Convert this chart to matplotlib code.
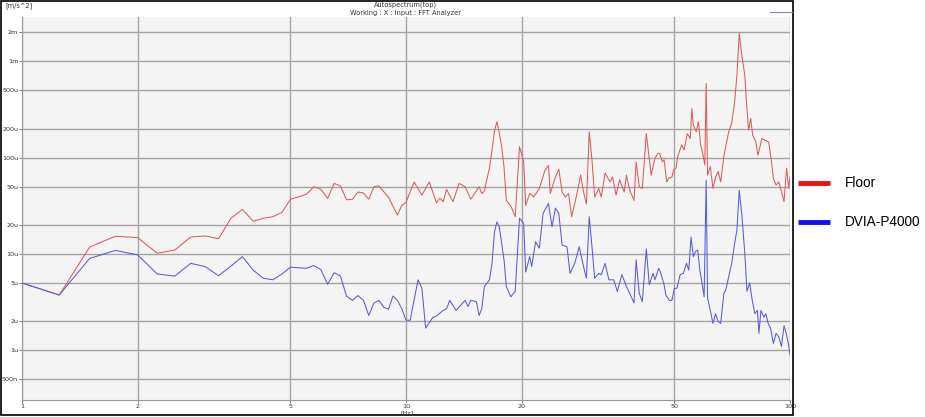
import matplotlib
matplotlib.use("Agg")
import matplotlib.pyplot as plt
from matplotlib.lines import Line2D
from matplotlib.patches import Rectangle
from matplotlib.ticker import FixedLocator, NullLocator
import numpy as np

# ---------------- data (values in micro m/s^2) ----------------
floor_freq = [1.0, 1.25, 1.5, 1.75, 2.0, 2.25, 2.5, 2.75, 3.0, 3.25, 3.5, 3.75, 4.0, 4.25, 4.5, 4.75,
              5.0, 5.5, 5.75, 6.0, 6.25, 6.5, 6.75, 7.0, 7.25, 7.5, 7.75, 8.0, 8.25, 8.5, 9.0, 9.5, 9.75,
              10.0, 10.5, 11.0, 11.5, 12.0, 12.25, 12.5, 12.75, 13.25, 13.75, 14.25, 14.75, 15.5, 15.75,
              16.0, 16.25, 16.5, 16.75, 17.0, 17.25, 17.5, 17.75, 18.0, 18.25, 18.75, 19.25, 19.75,
              20.25, 20.5, 21.0, 21.5, 22.25, 23.0, 23.5, 23.75, 24.5, 25.0, 25.5, 26.0, 26.5, 27.0,
              27.75, 28.5, 29.0, 29.5, 30.0, 30.5, 31.0, 31.75, 32.25, 33.0, 34.0, 34.5, 35.25, 36.0,
              37.0, 37.5, 38.25, 39.25, 39.75, 40.5, 41.25, 42.25, 43.0, 43.5, 44.5, 45.25, 45.75,
              46.5, 47.0, 47.75, 48.25, 49.25, 49.75, 50.5, 51.0, 52.25, 53.0, 54.0, 55.0, 55.5, 56.0,
              57.0, 57.75, 58.5, 59.25, 60.0, 60.5, 61.0, 62.0, 63.0, 64.0, 65.0, 66.0, 67.25, 68.0,
              69.25, 70.5, 71.75, 72.75, 73.75, 75.0, 76.25, 77.0, 78.0, 79.0, 80.0, 81.5, 82.5, 84.5,
              86.0, 88.0, 89.5, 90.5, 92.0, 93.5, 95.0, 96.5, 98.0, 99.25, 100.0]
floor_u = [5.0, 3.75, 11.8, 15.3, 14.8, 10.2, 11.0, 15.0, 15.4, 14.4, 23.5, 29, 21.9, 23.5, 24.4, 27,
           37, 41.6, 50, 47, 37.8, 54, 51, 36.6, 37, 44, 43, 37, 50, 51, 38.8, 25.4, 32,
           34.5, 56, 41, 56, 34, 38, 35, 47, 35, 54, 50, 37, 50, 42.5,
           45, 60, 78, 120, 190, 237, 178, 130, 80, 36, 31.5, 24.4, 130,
           91, 32, 42.5, 39, 48, 74, 83, 42.5, 63, 76, 44, 39, 42.5, 24.4,
           39, 66, 44, 33, 186, 95, 39, 48, 39, 69, 56, 63, 41, 59,
           44, 66, 46, 36, 90, 50, 48, 178, 98, 66, 98, 111, 111,
           91, 95, 56, 61, 63, 74, 78, 103, 136, 120, 178, 158, 323, 218,
           186, 237, 136, 111, 84, 591, 66, 81, 48, 63, 72, 56, 103, 130,
           186, 228, 382, 720, 1960, 1120, 720, 382, 194, 255, 170, 146, 106, 158,
           152, 146, 91, 61, 52, 56, 44.5, 35, 78, 48, 63]

dvia_freq = [1.0, 1.25, 1.5, 1.75, 2.0, 2.25, 2.5, 2.75, 3.0, 3.25, 3.5, 3.75, 4.0, 4.25, 4.5, 4.75,
             5.0, 5.5, 5.75, 6.0, 6.25, 6.5, 6.75, 7.0, 7.25, 7.5, 7.75, 8.0, 8.25, 8.5, 8.75, 9.0,
             9.25, 9.5, 9.75, 10.0, 10.25, 10.75, 11.0, 11.25, 11.75, 12.0, 12.5, 12.75, 13.0, 13.5,
             14.25, 14.5, 14.75, 15.25, 15.5, 15.75, 16.0, 16.5, 16.75, 17.0, 17.25, 17.5, 18.0,
             18.25, 18.75, 19.25, 19.75, 20.25, 20.5, 21.0, 21.25, 21.75, 22.25, 22.75, 23.5, 24.0,
             24.5, 25.0, 25.5, 26.25, 26.75, 27.5, 28.25, 29.0, 29.5, 30.0, 30.5, 31.0, 31.75, 32.25,
             33.0, 33.75, 34.75, 35.5, 36.5, 37.5, 38.25, 39.25, 39.75, 40.5, 41.25, 42.25, 43.0,
             44.0, 44.5, 45.5, 46.0, 47.0, 47.5, 48.5, 49.25, 50.0, 50.75, 51.75, 52.75, 53.75, 54.5,
             55.25, 56.0, 56.75, 57.5, 58.25, 59.0, 59.75, 60.5, 61.0, 62.0, 63.0, 64.0, 65.0, 66.0,
             67.25, 68.0, 69.25, 70.5, 71.75, 72.75, 73.75, 75.0, 76.25, 77.25, 78.5, 79.75, 81.0,
             82.25, 83.0, 84.0, 85.5, 86.5, 87.75, 89.0, 90.5, 92.0, 93.5, 95.0, 96.5, 97.75, 99.0,
             100.0]
dvia_u = [5.0, 3.75, 9.0, 10.9, 9.8, 6.2, 5.9, 8.0, 7.4, 5.95, 7.5, 9.4, 6.8, 5.6, 5.4, 6.2,
          7.3, 7.1, 7.6, 6.9, 4.85, 6.4, 5.9, 3.66, 3.3, 3.7, 3.3, 2.3, 3.1, 3.3, 2.8, 2.67,
          3.66, 3.3, 2.7, 2.06, 2.05, 5.4, 4.4, 1.7, 2.2, 2.27, 2.6, 2.7, 3.3, 2.6,
          3.3, 2.85, 3.3, 3.2, 2.3, 2.7, 4.6, 5.4, 8.0, 17, 21.6, 19, 8.7,
          4.6, 3.6, 4.1, 23.5, 20.8, 6.5, 9.4, 7.4, 13.4, 11.5, 26.4, 33.5, 19.2,
          30, 26.4, 12.4, 11.9, 6.3, 8.0, 11.9, 7.4, 5.6, 24.4, 11.9, 5.6, 6.3, 6.1,
          8.0, 5.4, 5.4, 4.1, 6.1, 4.6, 3.9, 3.1, 8.7, 3.9, 3.2, 11.3, 4.8,
          6.3, 5.4, 7.1, 6.5, 4.8, 3.75, 3.3, 3.3, 4.4, 4.4, 6.1, 6.3, 8.0, 6.8,
          15, 9.4, 10.6, 11, 6.8, 5.0, 3.6, 58.5, 3.5, 2.6, 1.9, 2.4, 2.0, 1.9,
          3.9, 4.2, 5.8, 8.0, 12.9, 17.7, 46, 24.4, 10.2, 4.1, 5.0, 3.3, 2.4,
          2.6, 1.5, 2.6, 2.2, 2.4, 1.9, 1.7, 1.18, 1.5, 1.38, 1.1, 1.8, 1.5, 1.18,
          0.9]

x_ticks = [1, 2, 5, 10, 20, 50, 100]
x_tick_labels = ["1", "2", "5", "10", "20", "50", "100"]
y_ticks = [2e-3, 1e-3, 5e-4, 2e-4, 1e-4, 5e-5, 2e-5, 1e-5, 5e-6, 2e-6, 1e-6, 5e-7]
y_tick_labels = ["2m", "1m", "500u", "200u", "100u", "50u", "20u", "10u", "5u", "2u", "1u", "500n"]
series_names = ["Floor", "DVIA-P4000"]

# ---------------- figure ----------------
W, H = 925, 417
fig = plt.figure(figsize=(W / 100, H / 100), dpi=100)
fig.patch.set_facecolor("white")

def fx(px):
    return px / W

def fy(py):
    return 1 - py / H

ax = fig.add_axes([fx(22), fy(400), fx(790) - fx(22), fy(17) - fy(400)])
ax.set_facecolor("#f4f4f4")
ax.set_xscale("log")
ax.set_yscale("log")
ax.set_xlim(1, 100)
ax.set_ylim(3.05e-7, 2.89e-3)

ax.plot(floor_freq, np.array(floor_u) * 1e-6, color="#e05a5a", lw=0.75, zorder=3)
ax.plot(dvia_freq, np.array(dvia_u) * 1e-6, color="#5a5ae0", lw=0.75, zorder=3)

ax.xaxis.set_major_locator(FixedLocator(x_ticks))
ax.xaxis.set_minor_locator(NullLocator())
ax.yaxis.set_major_locator(FixedLocator(y_ticks))
ax.yaxis.set_minor_locator(NullLocator())
ax.set_xticklabels(x_tick_labels)
ax.set_yticklabels(y_tick_labels)
ax.tick_params(axis="both", which="major", labelsize=4.6, labelcolor="#333333",
               color="#666666", length=2.0, width=0.6, pad=0.8)
ax.grid(True, which="major", color="#a3a3a3", lw=1.0, zorder=1)
for side in ["top", "right"]:
    ax.spines[side].set_visible(False)
for side in ["left", "bottom"]:
    ax.spines[side].set_color("#999999")
    ax.spines[side].set_linewidth(0.8)

# texts
fig.text(fx(5), fy(6), "[m/s^2]", fontsize=4.8, color="#333333", ha="left", va="center")
fig.text(fx(406), fy(5), "Autospectrum(top)", fontsize=4.8, color="#333333", ha="center", va="center")
fig.text(fx(406), fy(12.5), "Working : X : Input : FFT Analyzer", fontsize=4.8, color="#333333",
         ha="center", va="center")
fig.text(fx(407), fy(412.5), "[Hz]", fontsize=4.6, color="#333333", ha="center", va="center")
fig.add_artist(Line2D([fx(770), fx(792)], [fy(12), fy(12)], color="#8080e0", lw=0.8))

# outer frame
fig.add_artist(Rectangle((fx(1), fy(415)), fx(793) - fx(1), fy(1) - fy(415),
                         fill=False, edgecolor="black", lw=1.2, transform=fig.transFigure))

# side legend
leg_colors = ["#ee1111", "#1111ee"]
leg_y = [183, 222]
for name, c, yy in zip(series_names, leg_colors, leg_y):
    fig.add_artist(Line2D([fx(798), fx(830)], [fy(yy), fy(yy)], color=c, lw=3.5,
                          solid_capstyle="butt"))
    fig.text(fx(845), fy(yy), name, fontsize=9.8, family="Liberation Sans", color="black",
             ha="left", va="center")

fig.savefig("out.png", dpi=100, facecolor="white")
